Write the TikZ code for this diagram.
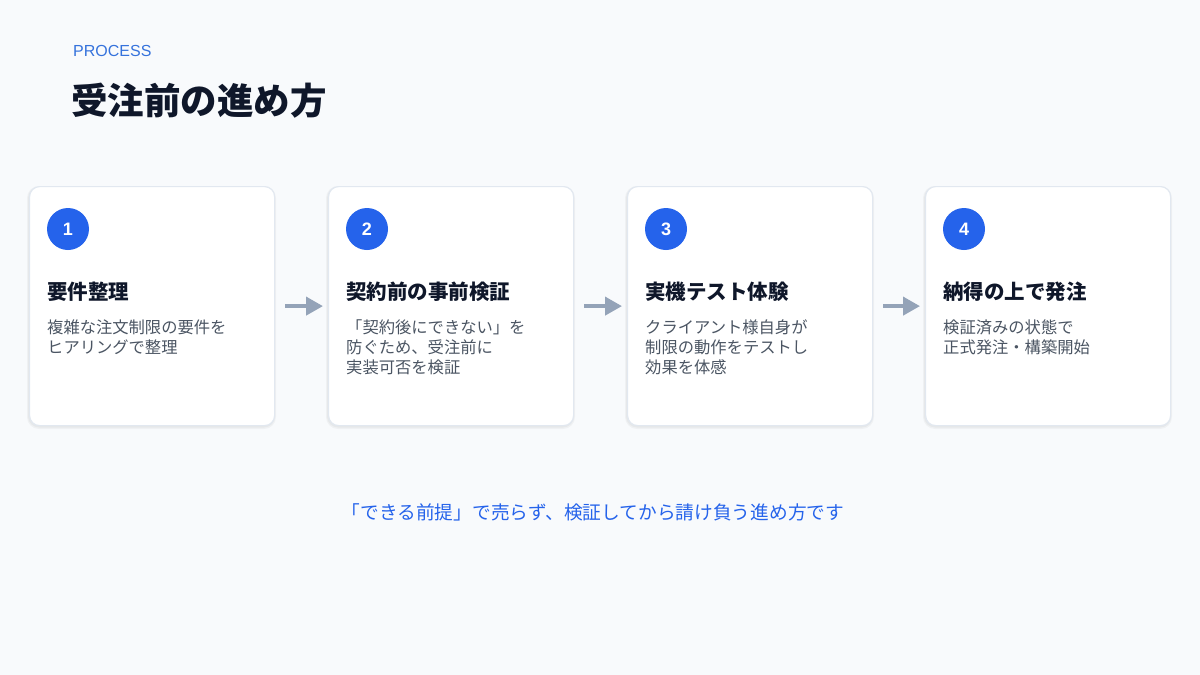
\documentclass[tikz,border=0pt]{standalone}
\usepackage{fontspec}
\setmainfont{Liberation Sans}
\newfontfamily\jp{Noto Sans CJK JP}
\usetikzlibrary{arrows.meta}
\definecolor{bg}{HTML}{F8FAFC}
\definecolor{cardborder}{HTML}{E2E8F0}
\definecolor{accent}{HTML}{2563EB}
\definecolor{kicker}{HTML}{3572DC}
\definecolor{heading}{HTML}{0F172A}
\definecolor{body}{HTML}{4B5563}
\definecolor{arrowgray}{HTML}{94A3B8}
\begin{document}
\begin{tikzpicture}[x=1pt,y=-1pt,
  card/.style={draw=cardborder, line width=1.2pt, fill=white, rounded corners=10pt,
    minimum width=245pt, minimum height=239pt, inner sep=0pt, anchor=north west},
  numdot/.style={circle, fill=accent, minimum size=42pt, inner sep=0pt,
    text=white, font=\fontsize{18}{18}\selectfont\bfseries},
  steptitle/.style={anchor=west, inner sep=0pt, text=heading,
    font=\jp\bfseries\fontsize{20.5}{24}\selectfont},
  stepdesc/.style={anchor=north west, inner sep=0pt, text=body, align=left,
    font=\jp\fontsize{16.3}{20}\selectfont},
  flowarrow/.style={draw=arrowgray, line width=4pt,
    -{Triangle[length=17pt,width=18pt]}, shorten <=10pt, shorten >=5pt}
]
\fill[bg] (0,0) rectangle (1200,675);
\useasboundingbox (0,0) rectangle (1200,675);

\node[anchor=west, inner sep=0pt, text=kicker, font=\fontsize{16}{16}\selectfont] (kick) at (73,51) {PROCESS};
\node[anchor=west, inner sep=0pt, text=heading, font=\jp\bfseries\fontsize{36.5}{42}\selectfont] (title) at (71,101) {受注前の進め方};

\foreach \i/\x/\t/\d in {
  1/29/要件整理/{複雑な注文制限の要件を\\ヒアリングで整理},
  2/328/契約前の事前検証/{「契約後にできない」を\\防ぐため、受注前に\\実装可否を検証},
  3/627/実機テスト体験/{クライアント様自身が\\制限の動作をテストし\\効果を体感},
  4/925/納得の上で発注/{検証済みの状態で\\正式発注・構築開始}} {
  \fill[black, opacity=0.035, rounded corners=12pt] (\x-2,186) rectangle (\x+247,429);
  \fill[black, opacity=0.035, rounded corners=11pt] (\x-1,187) rectangle (\x+246,427.5);
  \node[card] (c\i) at (\x,186) {};
  \node[numdot] (n\i) at (\x+39,229) {\i};
  \node[steptitle] (t\i) at (\x+18,292) {\t};
  \node[stepdesc] (d\i) at (\x+18,320) {\d};
}

\draw[flowarrow] (c1.east) -- (c2.west);
\draw[flowarrow] (c2.east) -- (c3.west);
\draw[flowarrow] (c3.east) -- (c4.west);

\node[inner sep=0pt, text=accent, font=\jp\fontsize{18.7}{22}\selectfont] (foot) at (593,512) {「できる前提」で売らず、検証してから請け負う進め方です};
\end{tikzpicture}
\end{document}
